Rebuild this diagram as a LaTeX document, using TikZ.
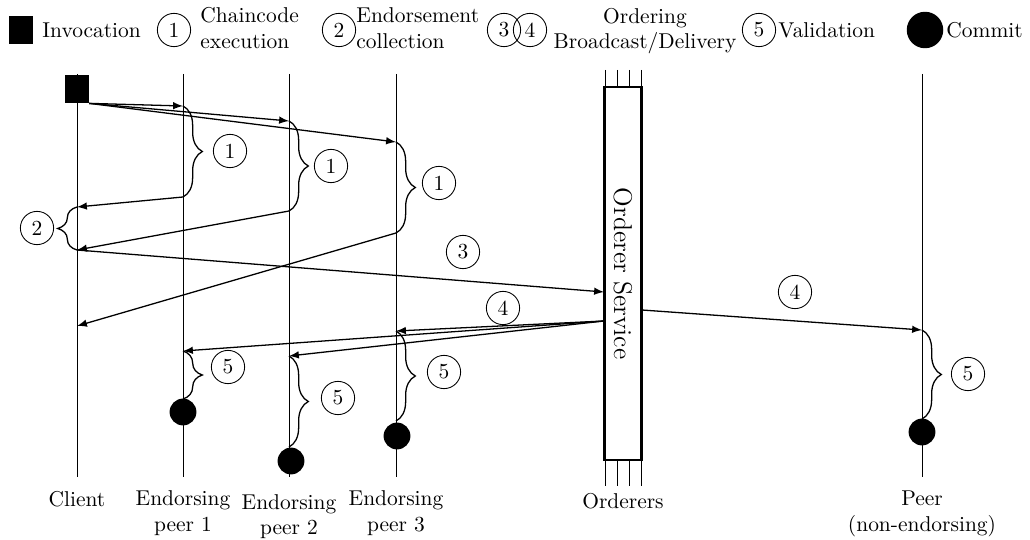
\documentclass[tikz,border=0pt]{standalone}
\usepackage{tikz}
\usetikzlibrary{arrows,decorations.pathreplacing,positioning}

\begin{document}
\begin{tikzpicture}[x=0.466pt,y=-0.466pt,
    stepnum/.style={draw,circle,inner sep=1pt,minimum size=15.5pt},
    invbox/.style={fill,inner sep=0pt,minimum width=11pt,minimum height=13pt},
    commitdot/.style={fill,circle,inner sep=0pt,minimum size=12.5pt},
    curly/.style={semithick,decorate,decoration={brace,amplitude=9pt}},
    msg/.style={semithick,-latex},
    lbl/.style={anchor=west,inner sep=0pt}]
\useasboundingbox (0,0) rectangle (1030,540);

  % legend
  \draw (21,30) node[invbox] (leginv) {};
  \draw (42,30) node[lbl] {Invocation};
  \draw (174,30) node[stepnum] (leg1) {1};
  \draw (200,28) node[lbl,align=left] {Chaincode\\execution};
  \draw (339,30) node[stepnum] (leg2) {2};
  \draw (356,28) node[lbl,align=left] {Endorsement\\collection};
  \draw (504,30) node[stepnum] (leg3) {3};
  \draw (530,30) node[stepnum] (leg4) {4};
  \draw (645,31) node[align=center,inner sep=0pt] {Ordering\\Broadcast/Delivery};
  \draw (759,30) node[stepnum] (leg5) {5};
  \draw (778,30) node[lbl] {Validation};
  \draw (925,30) node[commitdot,minimum size=17pt] (legcommit) {};
  \draw (946,30) node[lbl] {Commit};

  % lifelines
  \coordinate (cl0) at (77,74);   \coordinate (cl1) at (77,477);
  \coordinate (ep10) at (183,74); \coordinate (ep11) at (183,477);
  \coordinate (ep20) at (289,74); \coordinate (ep21) at (289,477);
  \coordinate (ep30) at (396,74); \coordinate (ep31) at (396,477);
  \coordinate (pr0) at (922,74);  \coordinate (pr1) at (922,477);
  \draw (cl0) -- (cl1) node[below=3pt] (client) {Client};
  \draw (ep10) -- (ep11) node[below=3pt,align=center] (peer1) {Endorsing\\peer 1};
  \draw (ep20) -- (ep21) node[below=4.5pt,align=center] (peer2) {Endorsing\\peer 2};
  \draw (ep30) -- (ep31) node[below=3pt,align=center] (peer3) {Endorsing\\peer 3};
  \draw (pr0) -- (pr1) node[below=3pt,align=center] (peer) {Peer\\(non-endorsing)};

  \foreach \x in {605,617,629,641}
    \draw (\x,70) -- (\x,486);
  \draw (623,273.5) node[draw,very thick,fill=white,rotate=-90,minimum width=174pt,minimum height=17pt,font=\large] (orderer) {Orderer Service};
  \draw (623,486) node[below] (orderers) {Orderers};

  \draw (77,89) node[invbox] (inv) {};

  % execution
  \coordinate (a1) at (183,106); \coordinate (b1) at (183,197);
  \coordinate (a2) at (289,121); \coordinate (b2) at (289,211);
  \coordinate (a3) at (396,142); \coordinate (b3) at (396,233);
  \coordinate (r1) at (77,207); \coordinate (r2) at (77,250); \coordinate (r3) at (77,326);
  \path[msg] (inv.south east) edge (a1) edge (a2) edge (a3);
  \draw[curly] (a1) -- (b1);
  \draw[curly] (a2) -- (b2);
  \draw[curly] (a3) -- (b3);
  \draw (230,151) node[stepnum] {1};
  \draw (331,166) node[stepnum] {1};
  \draw (439,183) node[stepnum] {1};
  \path[msg] (b1) edge (r1) (b2) edge (r2) (b3) edge (r3);
  \draw[curly] (r2) -- (r1);
  \draw (37,228) node[stepnum] {2};

  % ordering
  \coordinate (o3) at (604,292); \coordinate (o4) at (604,321); \coordinate (o5) at (642,310);
  \coordinate (q1) at (183,351); \coordinate (w1) at (183,399);
  \coordinate (q2) at (289,356); \coordinate (w2) at (289,447);
  \coordinate (q3) at (396,331); \coordinate (w3) at (396,421);
  \coordinate (qp) at (922,330); \coordinate (wp) at (922,419);
  \path[msg] (r2) edge (o3);
  \draw (463,252) node[stepnum] {3};
  \path[msg] (o4) edge (q3) edge (q1) edge (q2);
  \draw (503,308) node[stepnum] {4};
  \path[msg] (o5) edge (qp);
  \draw (795,292) node[stepnum] {4};

  % validation and commit
  \draw[curly] (q1) -- (w1);
  \draw[curly] (q2) -- (w2);
  \draw[curly] (q3) -- (w3);
  \draw[curly] (qp) -- (wp);
  \draw (228,367) node[stepnum] {5};
  \draw (338,398) node[stepnum] {5};
  \draw (444,372) node[stepnum] {5};
  \draw (968,374) node[stepnum] {5};
  \draw (183,412) node[commitdot] (cm1) {};
  \draw (291,461) node[commitdot] (cm2) {};
  \draw (397,436) node[commitdot] (cm3) {};
  \draw (922,432) node[commitdot] (cmp) {};

\end{tikzpicture}
\end{document}
